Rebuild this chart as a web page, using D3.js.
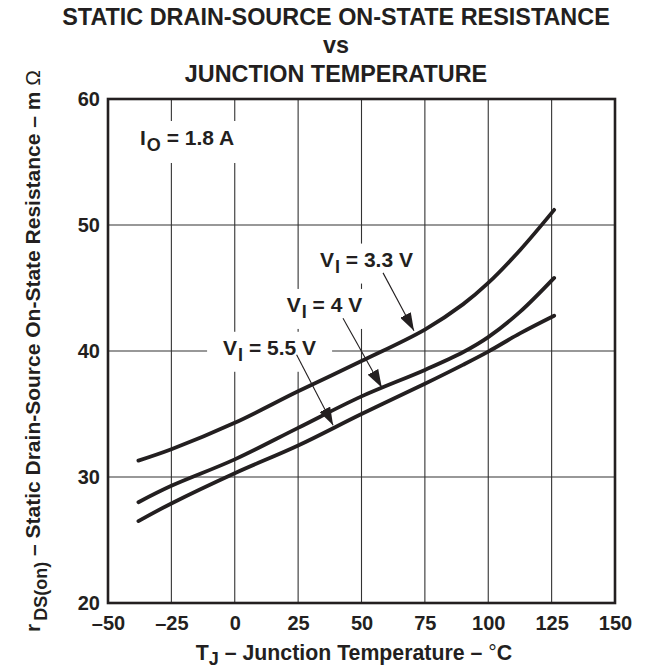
<!DOCTYPE html>
<html><head><meta charset="utf-8">
<script src="https://cdn.jsdelivr.net/npm/d3@7"></script>
<style>
html,body{margin:0;padding:0;background:#fff;}
svg{display:block;font-family:"Liberation Sans",Arial,Helvetica,sans-serif;font-weight:bold;}
</style></head><body>
<svg id="chart" width="647" height="670"></svg>
<script>
// ---- data ----
const tempTicks = [-50, -25, 0, 25, 50, 75, 100, 125, 150];
const resTicks = [20, 30, 40, 50, 60];
const temps = [-38, -25, 0, 25, 50, 75, 90, 100, 112.5, 126];
const rds33 = [31.3, 32.2, 34.3, 36.8, 39.2, 41.7, 43.7, 45.4, 48.0, 51.2];
const rds40 = [28.0, 29.3, 31.4, 33.9, 36.4, 38.5, 39.9, 41.1, 43.1, 45.8];
const rds55 = [26.5, 27.9, 30.3, 32.5, 35.0, 37.4, 38.9, 39.95, 41.4, 42.8];
const seriesNames = ["3.3 V", "4 V", "5.5 V"];
const titleLines = ["STATIC DRAIN-SOURCE ON-STATE RESISTANCE", "vs", "JUNCTION TEMPERATURE"];
// annotations in data space (T in °C, R in mΩ)
const noteMain = ["I", "V", "V", "V"];
const noteSub = ["O", "I", "I", "I"];
const noteRest = [" = 1.8 A", " = 3.3 V", " = 4 V", " = 5.5 V"];
const noteAt = [[-37.4, 56.35], [33.6, 46.7], [20.5, 43.1], [-4.6, 39.7]];
const notePad = [[10, 8], [8, 7], [8, 7], [16, 7]];
const arrowFrom = [null, [58.5, 46.2], [42.7, 42.6], [24.4, 39.7]];
const arrowTo = [null, [70.7, 41.6], [58.0, 37.1], [38.8, 34.1]];

// ---- setup ----
const ink = "#231f20";
const svg = d3.select("#chart");
const x = d3.scaleLinear().domain([-50, 150]).range([108, 615]);
const y = d3.scaleLinear().domain([20, 60]).range([603, 99]);
const fmt = d => d < 0 ? "\u2013" + Math.abs(d) : String(d);

// gridlines
const grid = svg.append("g").attr("stroke", "#333").attr("stroke-width", 1.1);
grid.selectAll("line.v").data(tempTicks.slice(1, -1)).join("line")
  .attr("x1", d => x(d)).attr("x2", d => x(d))
  .attr("y1", y(60)).attr("y2", y(20));
grid.selectAll("line.h").data(resTicks.slice(1, -1)).join("line")
  .attr("x1", x(-50)).attr("x2", x(150))
  .attr("y1", d => y(d)).attr("y2", d => y(d));

// label backgrounds layer
const bgLayer = svg.append("g");

// frame
svg.append("rect")
  .attr("x", x(-50)).attr("y", y(60))
  .attr("width", x(150) - x(-50)).attr("height", y(20) - y(60))
  .attr("fill", "none").attr("stroke", ink).attr("stroke-width", 2.6);

// axes
const xAxis = svg.append("g").attr("transform", `translate(0,${y(20)})`)
  .call(d3.axisBottom(x).tickValues(tempTicks).tickSize(0).tickPadding(13).tickFormat(fmt));
const yAxis = svg.append("g").attr("transform", `translate(${x(-50)},0)`)
  .call(d3.axisLeft(y).tickValues(resTicks).tickSize(0).tickPadding(8).tickFormat(fmt));
[xAxis, yAxis].forEach(a => {
  a.select(".domain").remove();
  a.selectAll("text").attr("font-size", 20).attr("font-family", "Liberation Sans, Arial, sans-serif")
    .attr("font-weight", "bold").attr("fill", ink);
});

// curves
const line = d3.line().x(d => x(d[0])).y(d => y(d[1])).curve(d3.curveCatmullRom.alpha(0.5));
const allSeries = [rds33, rds40, rds55].map(arr => temps.map((t, i) => [t, arr[i]]));
svg.append("g").selectAll("path").data(allSeries).join("path")
  .attr("d", line).attr("fill", "none").attr("stroke", ink)
  .attr("stroke-width", 3.8).attr("stroke-linecap", "round");

// annotations
const notes = svg.append("g");
noteMain.forEach((m, i) => {
  const t = notes.append("text")
    .attr("x", x(noteAt[i][0])).attr("y", y(noteAt[i][1]))
    .attr("font-size", 21).attr("fill", ink);
  t.append("tspan").text(m);
  t.append("tspan").attr("font-size", 18).attr("dy", 6).attr("dx", 1).text(noteSub[i]);
  t.append("tspan").attr("dy", -6).text(noteRest[i]);
  const b = t.node().getBBox();
  bgLayer.append("rect")
    .attr("x", b.x - notePad[i][0]).attr("y", b.y - notePad[i][1] + 3)
    .attr("width", b.width + 2 * notePad[i][0]).attr("height", b.height + 2 * notePad[i][1] - 3)
    .attr("fill", "#fff");
});

// arrows
const defs = svg.append("defs");
defs.append("marker").attr("id", "ah").attr("viewBox", "0 0 18 12")
  .attr("refX", 18).attr("refY", 6).attr("markerWidth", 18).attr("markerHeight", 12)
  .attr("markerUnits", "userSpaceOnUse").attr("orient", "auto")
  .append("path").attr("d", "M0,0 L18,6 L0,12 Z").attr("fill", ink);
svg.append("g").selectAll("line").data(arrowFrom.map((f, i) => [f, arrowTo[i]]).filter(d => d[0]))
  .join("line")
  .attr("x1", d => x(d[0][0])).attr("y1", d => y(d[0][1]))
  .attr("x2", d => x(d[1][0])).attr("y2", d => y(d[1][1]))
  .attr("stroke", ink).attr("stroke-width", 1.1).attr("marker-end", "url(#ah)");

// title
svg.append("g").selectAll("text").data(titleLines).join("text")
  .attr("x", 336).attr("y", (d, i) => 25 + i * 28.3)
  .attr("text-anchor", "middle").attr("font-size", 23.4).attr("fill", ink).text(d => d);

// x label
const xl = svg.append("text").attr("x", 354).attr("y", 660)
  .attr("text-anchor", "middle").attr("font-size", 21.3).attr("fill", ink);
xl.append("tspan").text("T");
xl.append("tspan").attr("font-size", 18).attr("dy", 5).text("J");
xl.append("tspan").attr("dy", -5).text(" \u2013 Junction Temperature \u2013 ");
xl.append("tspan").attr("font-weight", "normal").text("\u00b0");
xl.append("tspan").text("C");

// y label
const yl = svg.append("text")
  .attr("transform", `translate(40,${(y(20) + y(60)) / 2}) rotate(-90)`)
  .attr("text-anchor", "middle").attr("font-size", 21).attr("fill", ink);
yl.append("tspan").text("r");
yl.append("tspan").attr("font-size", 18).attr("dy", 7).attr("dx", 3).text("DS(on)");
yl.append("tspan").attr("dy", -7).text(" \u2013 Static Drain-Source On-State Resistance \u2013 m ");
yl.append("tspan").attr("font-weight", "normal").text("\u03a9");
</script>
</body></html>
